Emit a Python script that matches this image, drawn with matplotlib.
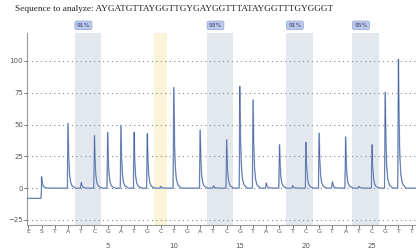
import numpy as np
import matplotlib

matplotlib.use("Agg")
import matplotlib.pyplot as plt

# ---------------------------------------------------------------------
# data
# ---------------------------------------------------------------------
sequence = "AYGATGTTAYGGTTGYGAYGGTTTATAYGGTTTGYGGGT"
dispensations = list("ESTATCGATGCTGATCGTAGTCGTATCGTT")
positions = np.arange(len(dispensations)) - 1          # E = -1, S = 0 ...
peak_heights = [0, 9, 0, 52, 4.5, 43, 44, 52, 44.5, 44.5, 1.5, 80, 0, 46, 2,
                39, 82, 72, 4, 36, 2, 37.5, 44.5, 5, 42, 1.5, 36, 77, 104, 0]
start_level = -8                                      # trace level before S

cpg_ranges = [(2.5, 4.5), (12.5, 14.5), (18.5, 20.5), (23.5, 25.5)]
cpg_labels = ["91%", "93%", "91%", "95%"]
control_range = (8.5, 9.5)

number_ticks = [5, 10, 15, 20, 25]
y_ticks = [-25, 0, 25, 50, 75, 100]

# peak shape (offset in dispensations, fraction of height)
shape_dx = [-0.05, 0.0, 0.04, 0.1, 0.18, 0.3, 0.55]
shape_fr = [0.0, 1.0, 0.55, 0.25, 0.1, 0.035, 0.0]

x = np.linspace(-1.2, 29, 4000)
y = np.where(x < 0, start_level, 0.0)
for p, h in zip(positions, peak_heights):
    if h:
        y += h * np.interp(x - p, shape_dx, shape_fr, left=0, right=0)

fig = plt.figure(figsize=(4.16, 2.5), dpi=100)
ax = fig.add_axes([0.065, 0.1, 0.95, 0.768])

for a, b in cpg_ranges:
    ax.axvspan(a, b, color="#e3e8ee", lw=0, zorder=0)
ax.axvspan(*control_range, color="#fcf4d9", lw=0, zorder=0)

for v in y_ticks:
    ax.axhline(v, color="#8a8a8a", lw=0.8, ls=(0, (1, 3)), zorder=1)

ax.plot(x, y, color="#b4c1db", lw=1.1, zorder=2)
ax.plot(x, y, color="#4766a3", lw=0.5, zorder=3)

ax.set_xlim(-1.1, 28.8)
ax.set_ylim(-29, 122)
ax.set_yticks(y_ticks)
ax.set_xticks(positions)
ax.set_xticklabels(dispensations)
ax.tick_params(axis="y", labelsize=5, colors="#555555", length=2, width=0.6, pad=1)
ax.tick_params(axis="x", labelsize=4.5, colors="#555555", length=2, width=0.6, pad=1)
for s in ("top", "right"):
    ax.spines[s].set_visible(False)
for s in ("left", "bottom"):
    ax.spines[s].set_color("#9a9a9a")
    ax.spines[s].set_linewidth(0.8)

for n in number_ticks:
    ax.annotate(str(n), xy=(n, 0), xycoords=("data", "axes fraction"),
                xytext=(0, -15), textcoords="offset points",
                ha="center", va="center", fontsize=5, color="#555555")

for (a, b), lab in zip(cpg_ranges, cpg_labels):
    ax.annotate(lab, xy=(a, 1), xycoords=("data", "axes fraction"),
                xytext=(1.5, 5.5), textcoords="offset points",
                ha="left", va="center", fontsize=4.3, color="#333366",
                bbox=dict(boxstyle="round,pad=0.3", fc="#bccbec", ec="#8ba3d6", lw=0.5),
                annotation_clip=False)

fig.text(15 / 416, 1 - 9 / 250, "Sequence to analyze: " + sequence,
         family="Liberation Serif", fontsize=6.7, color="#222222",
         ha="left", va="center")

fig.savefig("out.png", dpi=100)
